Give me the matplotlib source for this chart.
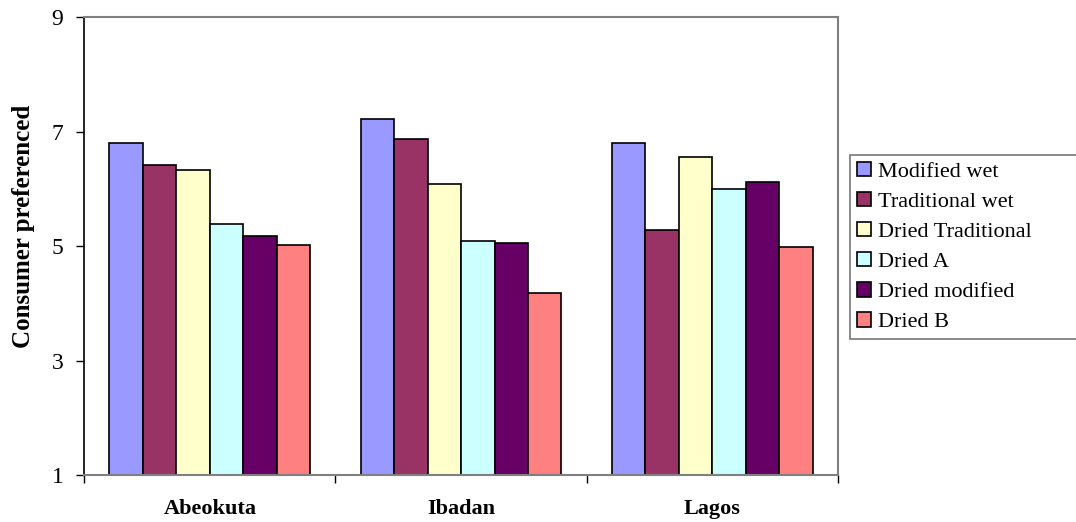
import numpy as np
import matplotlib
matplotlib.use("Agg")
import matplotlib.pyplot as plt

# data
cities = ["Abeokuta", "Ibadan", "Lagos"]
series = ["Modified wet", "Traditional wet", "Dried Traditional",
          "Dried A", "Dried modified", "Dried B"]
modified_wet = [6.80, 7.23, 6.81]
traditional_wet = [6.42, 6.88, 5.28]
dried_traditional = [6.33, 6.08, 6.56]
dried_a = [5.39, 5.10, 6.00]
dried_modified = [5.18, 5.05, 6.12]
dried_b = [5.02, 4.19, 4.98]
values = [modified_wet, traditional_wet, dried_traditional,
          dried_a, dried_modified, dried_b]
colors = ["#9999FF", "#993366", "#FFFFCC", "#CCFFFF", "#660066", "#FF8080"]

plt.rcParams['font.family'] = ['Liberation Serif', 'DejaVu Serif']

fig = plt.figure(figsize=(10.76, 5.22), dpi=100)
ax = fig.add_axes([0.0783, 0.0895, 0.7003, 0.8774])

x = np.arange(len(cities))
n = len(series)
bw = 0.8 / n
for i, (name, vals, c) in enumerate(zip(series, values, colors)):
    ax.bar(x - 0.4 + bw * (i + 0.5), np.array(vals) - 1, bottom=1, width=bw,
           color=c, edgecolor="black", linewidth=1.2, label=name)

ax.set_xlim(-0.5, len(cities) - 0.5)
ax.set_ylim(1, 9)
ax.set_yticks([1, 3, 5, 7, 9])
ax.tick_params(axis='y', labelsize=17, length=6, width=1, pad=9, direction='out')

# category labels at group centres, tick marks at group boundaries
ax.set_xticks(x)
ax.set_xticklabels(cities, fontsize=16, fontweight='bold')
ax.tick_params(axis='x', which='major', length=0, pad=17)
ax.set_xticks(np.arange(len(cities) + 1) - 0.5, minor=True)
ax.tick_params(axis='x', which='minor', length=6, width=1, direction='out')

fig.text(24 / 1076, 1 - 226 / 522, "Consumer preferenced", rotation=90,
         ha='center', va='center', fontsize=18, fontweight='bold')

for side in ['top', 'right', 'bottom']:
    ax.spines[side].set_color('#808080')
    ax.spines[side].set_linewidth(1.5)
ax.spines['left'].set_color('black')
ax.spines['left'].set_linewidth(1.2)

# legend box runs from x=850 to the right edge, vertically centred on the plot
leg = fig.legend(loc='upper left',
                 bbox_to_anchor=(850 / 1076, 1 - 340 / 522, 230 / 1076, 185 / 522),
                 mode='expand', fontsize=16, frameon=True, fancybox=False,
                 handlelength=0.63, handleheight=0.63, handletextpad=0.35,
                 labelspacing=0.45, borderpad=0.3, borderaxespad=0)
leg.get_frame().set_edgecolor('#555555')
leg.get_frame().set_linewidth(1.2)

fig.savefig("out.png", dpi=100)
